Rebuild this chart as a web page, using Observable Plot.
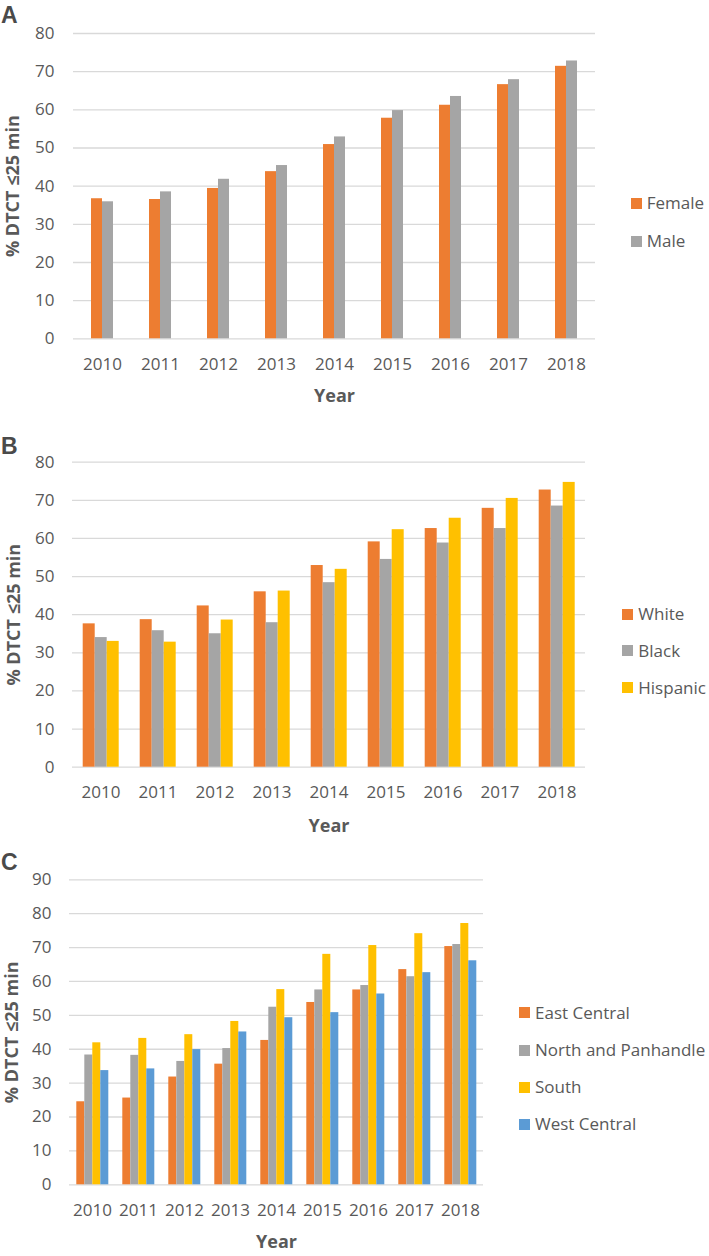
<!DOCTYPE html>
<html><head><meta charset="utf-8">
<script src="https://cdn.jsdelivr.net/npm/d3@7"></script>
<script src="https://cdn.jsdelivr.net/npm/@observablehq/plot@0.6"></script>
<style>
body{margin:0;background:#fff;}
#wrap{position:relative;width:709px;height:1256px;font-family:"Open Sans",sans-serif;color:#595959;overflow:hidden;}
.panel{position:absolute;left:0;}
.letter{position:absolute;left:1px;font-family:"Liberation Sans",Arial,sans-serif;font-weight:bold;font-size:23px;line-height:23px;color:#4a4a4a;}
.leg{position:absolute;height:20px;line-height:20px;font-size:17px;white-space:nowrap;color:#595959;}
.sw{position:absolute;width:11px;height:11px;top:4.5px;}
svg g[aria-label$="axis label"] text{font-weight:bold;font-size:18px;}
</style></head><body><div id="wrap"></div>
<script>
const years = ["2010","2011","2012","2013","2014","2015","2016","2017","2018"];
const yTicks80 = [0,10,20,30,40,50,60,70,80];
const yTicks90 = [0,10,20,30,40,50,60,70,80,90];
const yLabel = "% DTCT ≤25 min";
const xLabel = "Year";

// Panel A
const sexGroups = ["Female","Male"];
const femaleVals = [36.7,36.5,39.4,43.8,50.9,57.8,61.2,66.6,71.4];
const maleVals   = [35.9,38.5,41.8,45.4,52.9,59.8,63.5,67.9,72.8];
const sexColors = ["#ED7D31","#A5A5A5"];

// Panel B
const raceGroups = ["White","Black","Hispanic"];
const whiteVals    = [37.6,38.7,42.3,46.0,52.9,59.1,62.6,67.9,72.7];
const blackVals    = [34.0,35.8,35.0,37.9,48.4,54.5,58.8,62.6,68.5];
const hispanicVals = [33.0,32.8,38.6,46.2,51.9,62.3,65.3,70.5,74.7];
const raceColors = ["#ED7D31","#A5A5A5","#FFC000"];

// Panel C
const regionGroups = ["East Central","North and Panhandle","South","West Central"];
const eastCentralVals = [24.5,25.6,31.8,35.6,42.6,53.8,57.5,63.5,70.3];
const northVals       = [38.3,38.2,36.4,40.2,52.4,57.5,58.8,61.4,70.9];
const southVals       = [41.9,43.2,44.3,48.2,57.6,68.0,70.6,74.1,77.1];
const westCentralVals = [33.7,34.2,39.9,45.1,49.3,50.8,56.3,62.6,66.1];
const regionColors = ["#ED7D31","#A5A5A5","#FFC000","#5B9BD5"];

const wrap = document.getElementById("wrap");

function makePanel(o) {
  const rows = [];
  years.forEach((yr, i) => o.groups.forEach((g, j) => rows.push({year: yr, group: g, value: o.values[j][i]})));
  const chart = Plot.plot({
    width: o.width, height: o.height,
    marginLeft: o.ml, marginRight: o.mr, marginTop: o.mt, marginBottom: o.mb,
    style: {fontFamily: '"Open Sans", sans-serif', fontSize: "17px", color: "#595959", background: "transparent", overflow: "visible"},
    fx: {domain: years, padding: 0},
    x: {domain: o.groups, axis: null, paddingInner: 0, paddingOuter: o.po},
    y: {domain: [0, o.ticks[o.ticks.length - 1]]},
    color: {domain: o.groups, range: o.colors},
    marks: [
      Plot.gridY(o.ticks, {stroke: "#d9d9d9", strokeOpacity: 1, strokeWidth: 1.3}),
      Plot.barY(rows, {fx: "year", x: "group", y: "value", fill: "group"}),
      Plot.axisY(o.ticks, {tickSize: 0, tickPadding: o.tickPad, label: yLabel, labelArrow: "none", labelAnchor: "center", labelOffset: o.yLabOff}),
      Plot.axisFx({anchor: "bottom", tickSize: 0, tickPadding: 19, label: xLabel, labelArrow: "none", labelAnchor: "center", labelOffset: o.xLabOff})
    ]
  });
  const div = document.createElement("div");
  div.className = "panel";
  div.style.top = o.top + "px";
  div.appendChild(chart);
  wrap.appendChild(div);

  const letter = document.createElement("div");
  letter.className = "letter";
  letter.style.top = o.letterTop + "px";
  letter.textContent = o.letter;
  wrap.appendChild(letter);

  o.groups.forEach((g, j) => {
    const item = document.createElement("div");
    item.className = "leg";
    item.style.left = o.legX + "px";
    item.style.top = (o.legY[j] - 10) + "px";
    const sw = document.createElement("span");
    sw.className = "sw";
    sw.style.left = "0px";
    sw.style.background = o.colors[j];
    const t = document.createElement("span");
    t.style.position = "absolute";
    t.style.left = "16px";
    t.textContent = g;
    item.appendChild(sw);
    item.appendChild(t);
    wrap.appendChild(item);
  });
}

makePanel({
  groups: sexGroups, values: [femaleVals, maleVals], colors: sexColors, ticks: yTicks80,
  top: 0, width: 600, height: 415, ml: 71, mr: 4, mt: 33, mb: 76.7, po: 1.43, tickPad: 19,
  yLabOff: 67, xLabOff: 63, letter: "A", letterTop: 4.3, legX: 630.7, legY: [203.3, 241]
});
makePanel({
  groups: raceGroups, values: [whiteVals, blackVals, hispanicVals], colors: raceColors, ticks: yTicks80,
  top: 420, width: 590, height: 418, ml: 69.3, mr: 2.3, mt: 41.7, mb: 71.3, po: 0.73, tickPad: 18,
  yLabOff: 65.3, xLabOff: 64.5, letter: "B", letterTop: 435, legX: 622.3, legY: [614, 650.7, 687.7]
});
makePanel({
  groups: regionGroups, values: [eastCentralVals, northVals, southVals, westCentralVals], colors: regionColors, ticks: yTicks90,
  top: 840, width: 490, height: 416, ml: 68.7, mr: 6, mt: 39.3, mb: 71.7, po: 0.77, tickPad: 18,
  yLabOff: 64.7, xLabOff: 63.5, letter: "C", letterTop: 851, legX: 519, legY: [1012.7, 1050, 1087, 1124.3]
});
</script></body></html>
